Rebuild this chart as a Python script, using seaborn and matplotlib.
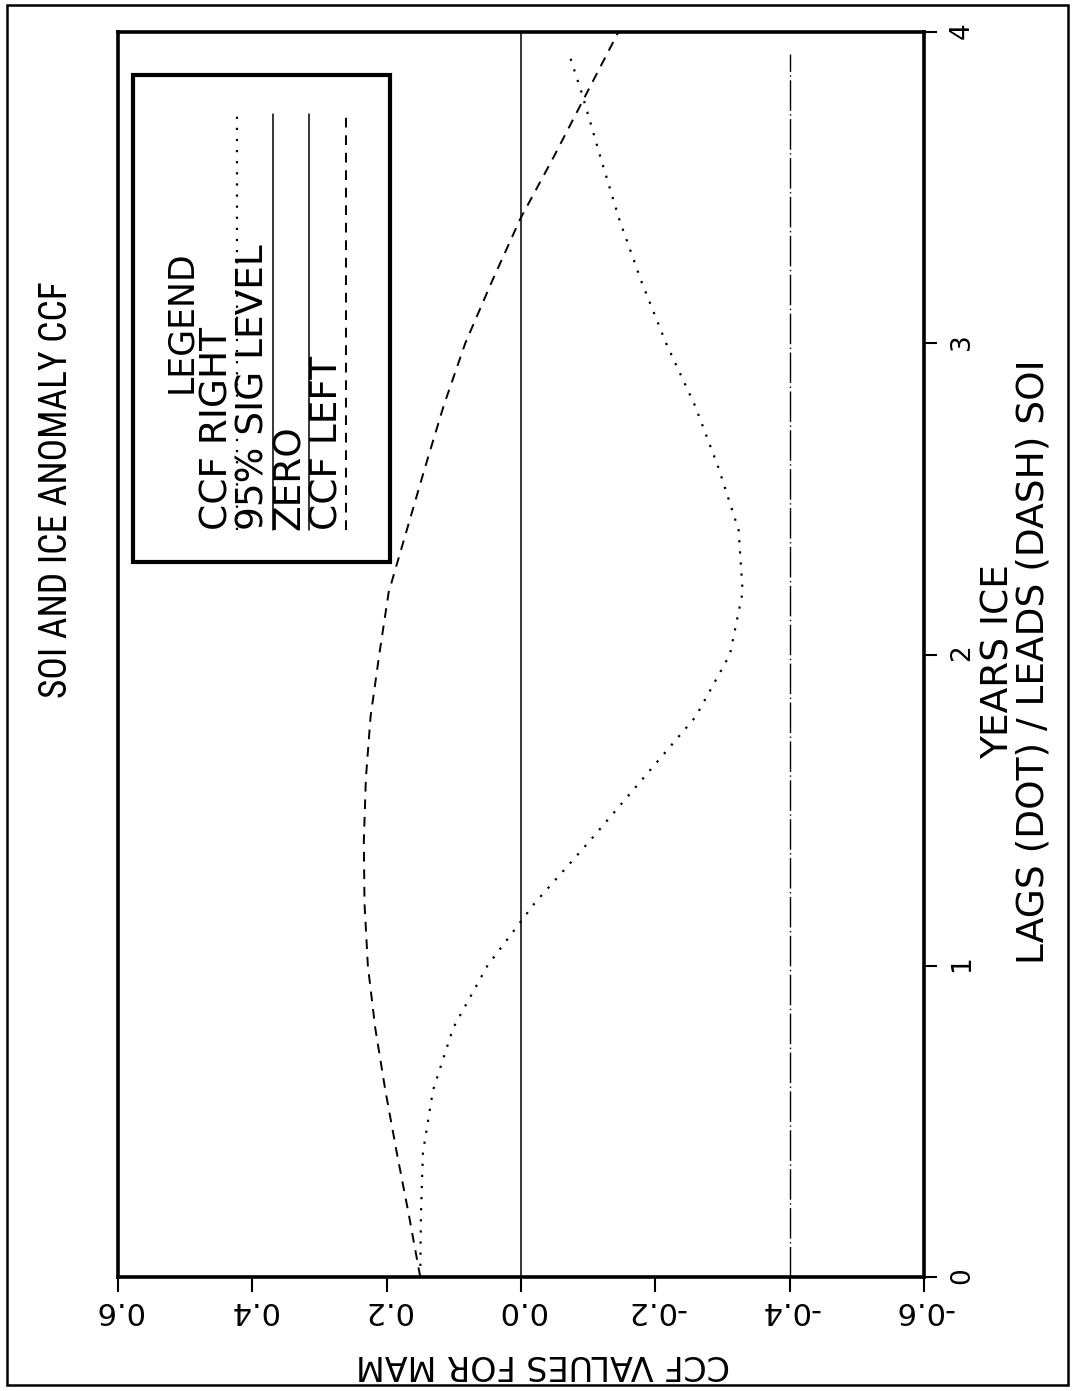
import matplotlib
matplotlib.use("Agg")
import matplotlib.pyplot as plt
import seaborn as sns
import pandas as pd
from matplotlib import font_manager as fm
from matplotlib.patches import Rectangle

# ---- data -------------------------------------------------------------
# CCF LEFT: SOI leads ice (dashed), years 0..4
lead_years = [0.0, 0.2, 0.4, 0.6, 0.8, 1.0, 1.2, 1.4, 1.6, 1.8, 2.0,
              2.2, 2.4, 2.6, 2.8, 3.0, 3.2, 3.4, 3.6, 3.8, 4.0]
ccf_left = [0.150, 0.167, 0.185, 0.202, 0.217, 0.228, 0.233, 0.234, 0.231,
            0.224, 0.211, 0.197, 0.170, 0.143, 0.115, 0.083, 0.043, 0.001,
            -0.049, -0.097, -0.145]

# CCF RIGHT: ice lags SOI (dotted)
lag_years = [0.0, 0.2, 0.4, 0.6, 0.8, 1.0, 1.2, 1.4, 1.6, 1.8, 2.0,
             2.2, 2.4, 2.6, 2.8, 3.0, 3.2, 3.4, 3.6, 3.8, 3.94]
ccf_right = [0.150, 0.149, 0.146, 0.131, 0.101, 0.050, -0.020, -0.102,
             -0.181, -0.260, -0.311, -0.330, -0.324, -0.294, -0.259, -0.216,
             -0.179, -0.146, -0.118, -0.091, -0.070]

sig_years = [0.0, 3.93]
sig_level = -0.40
zero_level = 0.0
zero_years = [0.0, 4.0]

ccf_ticks = [0.6, 0.4, 0.2, 0.0, -0.2, -0.4, -0.6]
ccf_tick_labels = ["0.6", "0.4", "0.2", "0.0", "-0.2", "-0.4", "-0.6"]
year_ticks = [0, 1, 2, 3, 4]
year_tick_labels = ["0", "1", "2", "3", "4"]

title_text = "SOI AND ICE ANOMALY CCF"
ccf_label = "CCF VALUES FOR MAM"
year_label = "YEARS ICE\nLAGS (DOT) / LEADS (DASH) SOI"
legend_title = "LEGEND"
legend_labels = ["CCF RIGHT", "95% SIG LEVEL", "ZERO", "CCF LEFT"]

# ---- style ------------------------------------------------------------
sns.set_theme(style="white")
plt.rcParams["font.family"] = ["DejaVu Sans"]


def pick_narrow():
    """Return (family, stretch, size) for a condensed title face if one exists."""
    for fam in ["Roboto Condensed", "Liberation Sans Narrow", "Open Sans Condensed"]:
        try:
            fm.findfont(fm.FontProperties(family=fam), fallback_to_default=False)
            return fam, "normal", 27
        except Exception:
            continue
    try:
        path = fm.findfont(fm.FontProperties(family="DejaVu Sans", stretch="condensed"),
                           fallback_to_default=False)
        if "Condensed" in path:
            return "DejaVu Sans", "condensed", 24
    except Exception:
        pass
    return "DejaVu Sans", "normal", 21


TITLE_FAMILY, TITLE_STRETCH, TITLE_SIZE = pick_narrow()

DOT = (0, (1, 4))
DASH = (0, (5, 4))
DASHDOT = (0, (22, 2.5, 1, 2.5))

W, H = 1074, 1391
fig = plt.figure(figsize=(W / 100, H / 100), dpi=100)
fig.patch.set_facecolor("white")

# plot frame (pixel box 118..924 x 32..1277)
ax = fig.add_axes([118 / W, 1 - 1277 / H, (924 - 118) / W, (1277 - 32) / H])
ax.set_facecolor("white")

left_df = pd.DataFrame({"ccf": ccf_left, "year": lead_years})
right_df = pd.DataFrame({"ccf": ccf_right, "year": lag_years})

sns.lineplot(data=right_df, x="ccf", y="year", orient="y", sort=False,
             estimator=None, color="black", linewidth=1.6, linestyle=DOT, ax=ax)
sns.lineplot(data=left_df, x="ccf", y="year", orient="y", sort=False,
             estimator=None, color="black", linewidth=1.4, linestyle=DASH, ax=ax)
sns.lineplot(x=[zero_level, zero_level], y=zero_years, orient="y", sort=False,
             estimator=None, color="black", linewidth=1.1, ax=ax)
sns.lineplot(x=[sig_level, sig_level], y=sig_years, orient="y", sort=False,
             estimator=None, color="black", linewidth=1.0, linestyle=DASHDOT, ax=ax)

ax.set_xlim(0.6, -0.6)
ax.set_ylim(0, 4)

for s in ax.spines.values():
    s.set_visible(True)
    s.set_color("black")
    s.set_linewidth(2.6)

ax.set_xticks(ccf_ticks)
ax.set_xticklabels(ccf_tick_labels)
ax.tick_params(axis="x", bottom=True, top=False, direction="out", length=11,
               width=1.5, pad=3, labelsize=22, labelrotation=180, colors="black")

ax.yaxis.tick_right()
ax.set_yticks(year_ticks)
ax.set_yticklabels(year_tick_labels)
ax.tick_params(axis="y", right=True, left=False, direction="out", length=9,
               width=1.5, pad=9, labelsize=19, labelrotation=90, colors="black")

ax.set_xlabel(ccf_label, fontsize=24, rotation=180, color="black")
ax.xaxis.set_label_coords((543 - 118) / 806, (1277 - 1348) / 1245)

ax.yaxis.set_label_position("right")
ax.set_ylabel(year_label, fontsize=27, rotation=90, color="black",
              multialignment="center", linespacing=0.95)
ax.yaxis.set_label_coords((981 - 118) / 806, (1277 - 662) / 1245)

# ---- overlay in pixel units for title, legend box and page border ----
ov = fig.add_axes([0, 0, 1, 1])
ov.set_xlim(0, W)
ov.set_ylim(H, 0)
ov.axis("off")
ov.patch.set_alpha(0)

ov.add_patch(Rectangle((7, 5), 1061, 1380, fill=False, edgecolor="black", linewidth=1.8))

ov.text(57, 490, title_text, rotation=90, ha="center", va="center",
        fontsize=TITLE_SIZE, family=TITLE_FAMILY, fontstretch=TITLE_STRETCH,
        color="black")

ov.add_patch(Rectangle((133, 75), 257, 487, facecolor="white", edgecolor="black",
                       linewidth=3.0, zorder=3))
ov.text(181, 322, legend_title, rotation=90, rotation_mode="anchor",
        ha="center", va="center", fontsize=25, color="black", zorder=4)

text_x = [217, 254, 290, 327]
line_x = [237, 273, 309, 346]
line_styles = [DOT, "-", "-", DASH]
line_widths = [1.6, 1.1, 1.1, 1.4]
for lab, tx, lx, ls, lw in zip(legend_labels, text_x, line_x, line_styles, line_widths):
    ov.text(tx, 530, lab, rotation=90, rotation_mode="anchor", ha="left",
            va="center", fontsize=27, color="black", zorder=4)
    ov.plot([lx, lx], [530, 114], color="black", linestyle=ls, linewidth=lw, zorder=4)

fig.savefig("out.png", dpi=100, facecolor="white")
